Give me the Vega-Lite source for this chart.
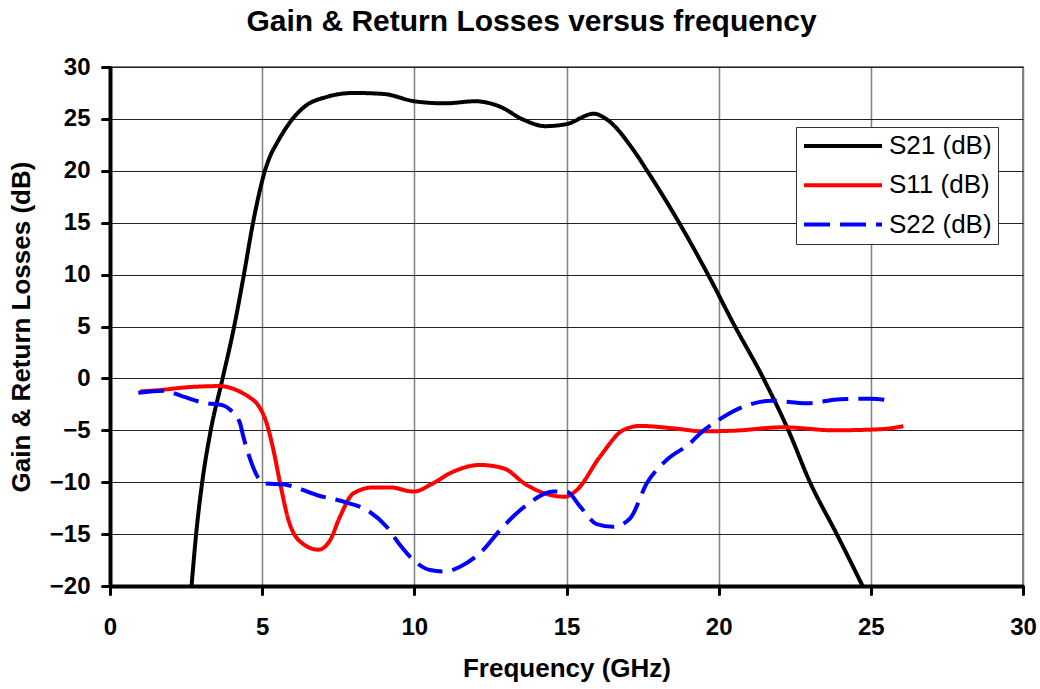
{
  "$schema": "https://vega.github.io/schema/vega-lite/v6.json",
  "autosize": "none",
  "width": 913,
  "height": 519,
  "padding": {"left": 110, "top": 67, "right": 17, "bottom": 103},
  "background": "white",
  "title": {
    "text": "Gain & Return Losses versus frequency",
    "font": "Liberation Sans",
    "fontSize": 30,
    "fontWeight": "bold",
    "color": "black",
    "anchor": "middle",
    "frame": "group",
    "dx": -35,
    "offset": 28,
    "dy": 40,
    "baseline": "bottom"
  },
  "config": {
    "view": {"stroke": "#808080", "strokeWidth": 2},
    "font": "Liberation Sans",
    "axis": {
      "labelFont": "Liberation Sans",
      "labelFontSize": 24,
      "labelFontWeight": "bold",
      "labelColor": "black",
      "titleFont": "Liberation Sans",
      "titleFontSize": 26,
      "titleFontWeight": "bold",
      "titleColor": "black",
      "domainColor": "black",
      "domainWidth": 4,
      "tickColor": "black",
      "tickWidth": 3,
      "tickSize": 8,
      "tickCap": "round"
    }
  },
  "data": {
    "values": [
      {"f": 2.68, "v": -20, "s": "S21 (dB)"},
      {"f": 2.83, "v": -15, "s": "S21 (dB)"},
      {"f": 3.03, "v": -10, "s": "S21 (dB)"},
      {"f": 3.31, "v": -5, "s": "S21 (dB)"},
      {"f": 3.7, "v": 0, "s": "S21 (dB)"},
      {"f": 4.08, "v": 5, "s": "S21 (dB)"},
      {"f": 4.4, "v": 10, "s": "S21 (dB)"},
      {"f": 4.7, "v": 15, "s": "S21 (dB)"},
      {"f": 4.9, "v": 17.8, "s": "S21 (dB)"},
      {"f": 5.09, "v": 20, "s": "S21 (dB)"},
      {"f": 5.26, "v": 21.4, "s": "S21 (dB)"},
      {"f": 5.48, "v": 22.65, "s": "S21 (dB)"},
      {"f": 6.0, "v": 25, "s": "S21 (dB)"},
      {"f": 6.4, "v": 26.2, "s": "S21 (dB)"},
      {"f": 7.1, "v": 27.1, "s": "S21 (dB)"},
      {"f": 8.0, "v": 27.5, "s": "S21 (dB)"},
      {"f": 9.0, "v": 27.4, "s": "S21 (dB)"},
      {"f": 10.0, "v": 26.7, "s": "S21 (dB)"},
      {"f": 11.0, "v": 26.5, "s": "S21 (dB)"},
      {"f": 12.0, "v": 26.7, "s": "S21 (dB)"},
      {"f": 12.8, "v": 26.2, "s": "S21 (dB)"},
      {"f": 13.6, "v": 24.9, "s": "S21 (dB)"},
      {"f": 14.3, "v": 24.3, "s": "S21 (dB)"},
      {"f": 15.0, "v": 24.5, "s": "S21 (dB)"},
      {"f": 15.9, "v": 25.5, "s": "S21 (dB)"},
      {"f": 16.3, "v": 25.0, "s": "S21 (dB)"},
      {"f": 17.2, "v": 22.0, "s": "S21 (dB)"},
      {"f": 17.65, "v": 20, "s": "S21 (dB)"},
      {"f": 18.7, "v": 15, "s": "S21 (dB)"},
      {"f": 19.65, "v": 10, "s": "S21 (dB)"},
      {"f": 20.5, "v": 5.2, "s": "S21 (dB)"},
      {"f": 21.47, "v": 0, "s": "S21 (dB)"},
      {"f": 22.29, "v": -5, "s": "S21 (dB)"},
      {"f": 23.0, "v": -10, "s": "S21 (dB)"},
      {"f": 23.88, "v": -15, "s": "S21 (dB)"},
      {"f": 24.73, "v": -20, "s": "S21 (dB)"},

      {"f": 1.0, "v": -1.25, "s": "S11 (dB)"},
      {"f": 1.6, "v": -1.13, "s": "S11 (dB)"},
      {"f": 2.5, "v": -0.86, "s": "S11 (dB)"},
      {"f": 3.6, "v": -0.74, "s": "S11 (dB)"},
      {"f": 4.27, "v": -1.28, "s": "S11 (dB)"},
      {"f": 4.6, "v": -1.86, "s": "S11 (dB)"},
      {"f": 4.82, "v": -2.4, "s": "S11 (dB)"},
      {"f": 5.15, "v": -4.35, "s": "S11 (dB)"},
      {"f": 5.37, "v": -6.9, "s": "S11 (dB)"},
      {"f": 5.59, "v": -10.1, "s": "S11 (dB)"},
      {"f": 5.86, "v": -13.6, "s": "S11 (dB)"},
      {"f": 6.24, "v": -15.7, "s": "S11 (dB)"},
      {"f": 6.85, "v": -16.5, "s": "S11 (dB)"},
      {"f": 7.23, "v": -15.6, "s": "S11 (dB)"},
      {"f": 7.56, "v": -13.3, "s": "S11 (dB)"},
      {"f": 8.0, "v": -11.07, "s": "S11 (dB)"},
      {"f": 8.65, "v": -10.5, "s": "S11 (dB)"},
      {"f": 9.2, "v": -10.5, "s": "S11 (dB)"},
      {"f": 9.97, "v": -10.9, "s": "S11 (dB)"},
      {"f": 10.62, "v": -10.1, "s": "S11 (dB)"},
      {"f": 11.17, "v": -9.14, "s": "S11 (dB)"},
      {"f": 12.16, "v": -8.34, "s": "S11 (dB)"},
      {"f": 12.93, "v": -8.66, "s": "S11 (dB)"},
      {"f": 13.69, "v": -10.27, "s": "S11 (dB)"},
      {"f": 14.46, "v": -11.23, "s": "S11 (dB)"},
      {"f": 14.95, "v": -11.4, "s": "S11 (dB)"},
      {"f": 15.34, "v": -10.75, "s": "S11 (dB)"},
      {"f": 16.1, "v": -7.54, "s": "S11 (dB)"},
      {"f": 16.87, "v": -4.97, "s": "S11 (dB)"},
      {"f": 17.42, "v": -4.58, "s": "S11 (dB)"},
      {"f": 18.51, "v": -4.81, "s": "S11 (dB)"},
      {"f": 19.5, "v": -5.1, "s": "S11 (dB)"},
      {"f": 20.48, "v": -5.04, "s": "S11 (dB)"},
      {"f": 22.13, "v": -4.71, "s": "S11 (dB)"},
      {"f": 23.77, "v": -5.0, "s": "S11 (dB)"},
      {"f": 25.3, "v": -4.9, "s": "S11 (dB)"},
      {"f": 26.07, "v": -4.6, "s": "S11 (dB)"},

      {"f": 0.93, "v": -1.38, "s": "S22 (dB)"},
      {"f": 1.75, "v": -1.18, "s": "S22 (dB)"},
      {"f": 2.41, "v": -1.76, "s": "S22 (dB)"},
      {"f": 3.07, "v": -2.34, "s": "S22 (dB)"},
      {"f": 3.72, "v": -2.6, "s": "S22 (dB)"},
      {"f": 3.94, "v": -3.0, "s": "S22 (dB)"},
      {"f": 4.27, "v": -4.3, "s": "S22 (dB)"},
      {"f": 4.38, "v": -5.6, "s": "S22 (dB)"},
      {"f": 4.55, "v": -7.3, "s": "S22 (dB)"},
      {"f": 4.71, "v": -8.6, "s": "S22 (dB)"},
      {"f": 5.04, "v": -10.1, "s": "S22 (dB)"},
      {"f": 5.81, "v": -10.27, "s": "S22 (dB)"},
      {"f": 6.79, "v": -11.23, "s": "S22 (dB)"},
      {"f": 7.78, "v": -11.97, "s": "S22 (dB)"},
      {"f": 8.44, "v": -12.68, "s": "S22 (dB)"},
      {"f": 9.09, "v": -14.29, "s": "S22 (dB)"},
      {"f": 9.53, "v": -16.05, "s": "S22 (dB)"},
      {"f": 9.97, "v": -17.5, "s": "S22 (dB)"},
      {"f": 10.52, "v": -18.46, "s": "S22 (dB)"},
      {"f": 11.0, "v": -18.6, "s": "S22 (dB)"},
      {"f": 11.5, "v": -18.14, "s": "S22 (dB)"},
      {"f": 12.27, "v": -16.5, "s": "S22 (dB)"},
      {"f": 12.82, "v": -14.6, "s": "S22 (dB)"},
      {"f": 13.69, "v": -12.2, "s": "S22 (dB)"},
      {"f": 14.57, "v": -10.9, "s": "S22 (dB)"},
      {"f": 15.0, "v": -10.9, "s": "S22 (dB)"},
      {"f": 15.45, "v": -12.36, "s": "S22 (dB)"},
      {"f": 15.99, "v": -14.03, "s": "S22 (dB)"},
      {"f": 16.54, "v": -14.29, "s": "S22 (dB)"},
      {"f": 17.09, "v": -13.48, "s": "S22 (dB)"},
      {"f": 17.64, "v": -10.1, "s": "S22 (dB)"},
      {"f": 18.29, "v": -7.86, "s": "S22 (dB)"},
      {"f": 19.06, "v": -6.25, "s": "S22 (dB)"},
      {"f": 19.39, "v": -5.3, "s": "S22 (dB)"},
      {"f": 20.0, "v": -4.0, "s": "S22 (dB)"},
      {"f": 20.81, "v": -2.73, "s": "S22 (dB)"},
      {"f": 21.74, "v": -2.15, "s": "S22 (dB)"},
      {"f": 22.89, "v": -2.4, "s": "S22 (dB)"},
      {"f": 23.99, "v": -2.0, "s": "S22 (dB)"},
      {"f": 25.0, "v": -1.95, "s": "S22 (dB)"},
      {"f": 25.76, "v": -2.2, "s": "S22 (dB)"}
    ]
  },
  "mark": {"type": "line", "interpolate": "monotone", "clip": true, "strokeCap": "butt"},
  "encoding": {
    "x": {
      "field": "f",
      "type": "quantitative",
      "scale": {"domain": [0, 30], "nice": false, "zero": false},
      "axis": {
        "title": "Frequency (GHz)",
        "values": [0, 5, 10, 15, 20, 25, 30],
        "grid": true,
        "gridColor": "#808080",
        "gridWidth": 1.5,
        "labelPadding": 21,
        "titlePadding": 16,
        "labelFlush": false
      }
    },
    "y": {
      "field": "v",
      "type": "quantitative",
      "scale": {"domain": [-20, 30], "nice": false, "zero": false},
      "axis": {
        "title": "Gain & Return Losses (dB)",
        "values": [-20, -15, -10, -5, 0, 5, 10, 15, 20, 25, 30],
        "grid": true,
        "gridColor": "#222222",
        "gridWidth": 1,
        "labelPadding": 12,
        "titlePadding": 15,
        "labelFlush": false
      }
    },
    "color": {
      "field": "s",
      "type": "nominal",
      "scale": {"domain": ["S21 (dB)", "S11 (dB)", "S22 (dB)"], "range": ["#000000", "#ff0000", "#0000ff"]},
      "legend": {
        "title": null,
        "orient": "none",
        "legendX": 686,
        "legendY": 60,
        "fillColor": "white",
        "strokeColor": "#333333",
        "padding": 6,
        "labelFont": "Liberation Sans",
        "labelFontSize": 26,
        "labelColor": "black",
        "labelOffset": 5,
        "symbolType": "stroke",
        "symbolSize": 6084,
        "symbolStrokeWidth": 4,
        "clipHeight": 26,
        "rowPadding": 13.3
      }
    },
    "strokeDash": {
      "field": "s",
      "type": "nominal",
      "scale": {"domain": ["S21 (dB)", "S11 (dB)", "S22 (dB)"], "range": [[1, 0], [1, 0], [26, 10]]},
      "legend": null
    },
    "strokeWidth": {
      "field": "s",
      "type": "nominal",
      "scale": {"domain": ["S21 (dB)", "S11 (dB)", "S22 (dB)"], "range": [4, 4, 5]},
      "legend": null
    }
  }
}
